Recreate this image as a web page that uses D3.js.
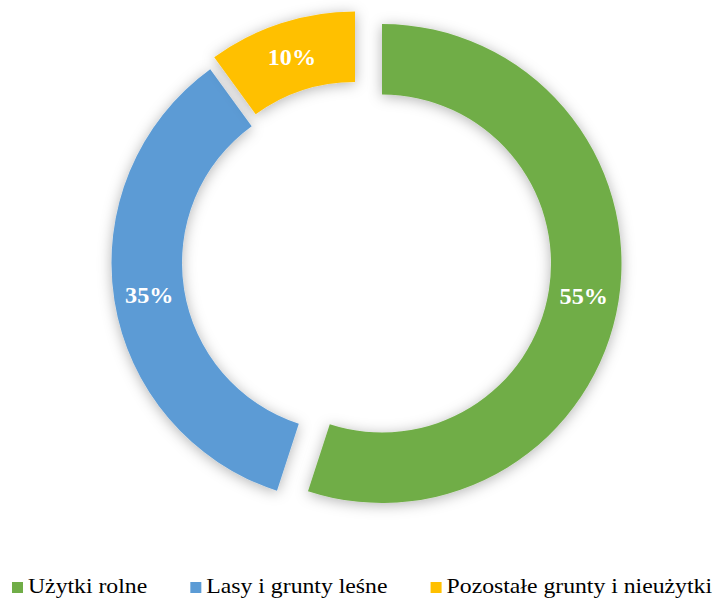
<!DOCTYPE html>
<html>
<head>
<meta charset="utf-8">
<script src="https://cdn.jsdelivr.net/npm/d3@7"></script>
<style>
  html, body { margin: 0; padding: 0; background: #fff; }
  svg { display: block; }
</style>
</head>
<body>
<svg id="chart" width="716" height="599"></svg>
<script>
const categories = ['Użytki rolne', 'Lasy i grunty leśne', 'Pozostałe grunty i nieużytki']
const shares = [55, 35, 10]
const labels = ['55%', '35%', '10%']
const colours = ['#70ad47', '#5b9bd5', '#ffc000']

// how far each slice is pulled out of the ring, px (x, y)
const explode = [[16, 5.5], [-15, 5], [-11, -7]]

const svg = d3.select('#chart')

const cx = 366
const cy = 258
const outer = 239.5
const inner = 169

const defs = svg.append('defs')
const shadow = defs.append('filter')
  .attr('id', 'shadow')
  .attr('x', '-30%').attr('y', '-30%')
  .attr('width', '160%').attr('height', '160%')
shadow.append('feDropShadow')
  .attr('dx', 0)
  .attr('dy', 2)
  .attr('stdDeviation', 7)
  .attr('flood-color', '#000')
  .attr('flood-opacity', 0.3)

const pie = d3.pie().sort(null).value(d => d)
const arc = d3.arc().innerRadius(inner).outerRadius(outer)

const slices = pie(shares)

const g = svg.append('g').attr('transform', `translate(${cx},${cy})`)

const slice = g.selectAll('g.slice')
  .data(slices)
  .enter().append('g')
    .attr('class', 'slice')
    .attr('transform', (d, i) => `translate(${explode[i][0]},${explode[i][1]})`)

slice.append('path')
  .attr('d', arc)
  .attr('fill', (d, i) => colours[i])
  .attr('filter', 'url(#shadow)')

slice.append('text')
  .attr('transform', d => `translate(${arc.centroid(d)}) scale(1.05,1)`)
  .attr('text-anchor', 'middle')
  .attr('dy', '0.35em')
  .style('font-family', '"Liberation Serif", "Times New Roman", serif')
  .style('font-weight', 'bold')
  .style('font-size', '23px')
  .style('fill', '#fff')
  .text((d, i) => labels[i])

// legend
const stretch = 1.13
const legend = svg.append('g').attr('transform', 'translate(12,593)')
const items = legend.selectAll('g.item')
  .data(categories)
  .enter().append('g')
    .attr('class', 'item')

items.append('rect')
  .attr('x', 0)
  .attr('y', -11)
  .attr('width', 11)
  .attr('height', 11)
  .attr('fill', (d, i) => colours[i])

items.append('text')
  .attr('transform', `translate(16,0) scale(${stretch},1)`)
  .style('font-family', '"Liberation Serif", "Times New Roman", serif')
  .style('font-size', '21px')
  .style('fill', '#000')
  .text(d => d)

const span = 700
const widths = []
items.each(function () {
  widths.push(16 + stretch * d3.select(this).select('text').node().getComputedTextLength())
})
const gap = (span - d3.sum(widths)) / (widths.length - 1)
let pos = 0
const offsets = widths.map(w => { const p = pos; pos += w + gap; return p })
items.attr('transform', (d, i) => `translate(${offsets[i]},0)`)
</script>
</body>
</html>
